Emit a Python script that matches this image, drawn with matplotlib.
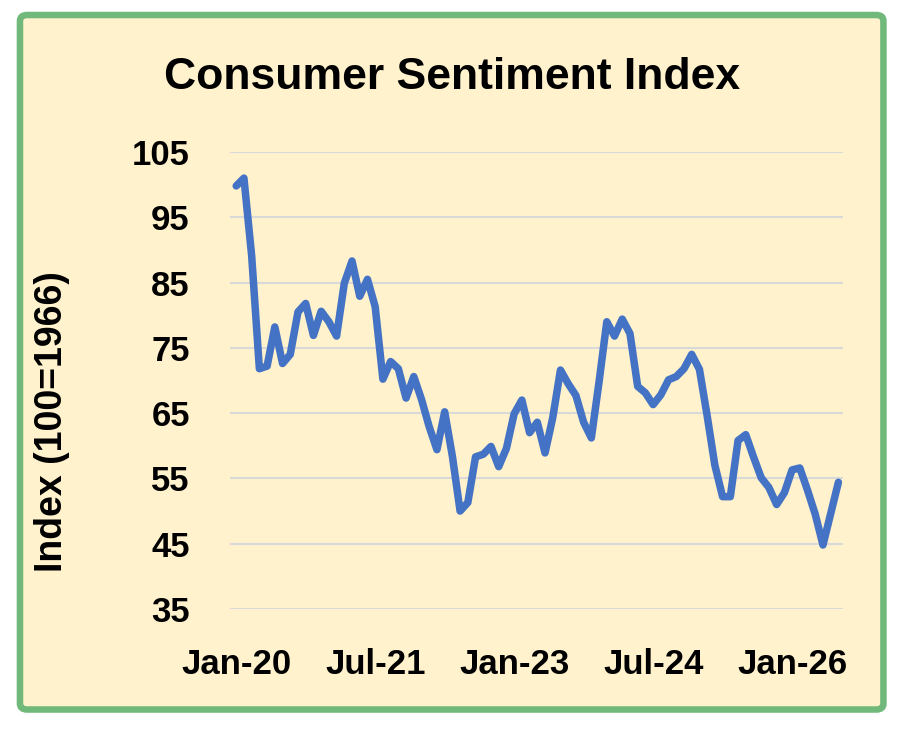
#!/usr/bin/env python3
"""Consumer sentiment index line chart, Jan 2020 onwards."""

import matplotlib as mpl
mpl.use('Agg')
import matplotlib.pyplot as plt
from matplotlib.patches import FancyBboxPatch

# monthly index values, Jan-20 .. Jul-26
months = ['Jan-20', 'Feb-20', 'Mar-20', 'Apr-20', 'May-20', 'Jun-20',
          'Jul-20', 'Aug-20', 'Sep-20', 'Oct-20', 'Nov-20', 'Dec-20',
          'Jan-21', 'Feb-21', 'Mar-21', 'Apr-21', 'May-21', 'Jun-21',
          'Jul-21', 'Aug-21', 'Sep-21', 'Oct-21', 'Nov-21', 'Dec-21',
          'Jan-22', 'Feb-22', 'Mar-22', 'Apr-22', 'May-22', 'Jun-22',
          'Jul-22', 'Aug-22', 'Sep-22', 'Oct-22', 'Nov-22', 'Dec-22',
          'Jan-23', 'Feb-23', 'Mar-23', 'Apr-23', 'May-23', 'Jun-23',
          'Jul-23', 'Aug-23', 'Sep-23', 'Oct-23', 'Nov-23', 'Dec-23',
          'Jan-24', 'Feb-24', 'Mar-24', 'Apr-24', 'May-24', 'Jun-24',
          'Jul-24', 'Aug-24', 'Sep-24', 'Oct-24', 'Nov-24', 'Dec-24',
          'Jan-25', 'Feb-25', 'Mar-25', 'Apr-25', 'May-25', 'Jun-25',
          'Jul-25', 'Aug-25', 'Sep-25', 'Oct-25', 'Nov-25', 'Dec-25',
          'Jan-26', 'Feb-26', 'Mar-26', 'Apr-26', 'May-26', 'Jun-26',
          'Jul-26']
sentiment = [99.8, 101.0, 89.1, 71.8, 72.2, 78.2,
             72.6, 74.0, 80.5, 81.8, 76.9, 80.6,
             79.0, 76.8, 84.9, 88.3, 82.9, 85.5,
             81.3, 70.2, 72.9, 71.8, 67.3, 70.6,
             67.1, 62.9, 59.4, 65.2, 58.4, 50.0,
             51.3, 58.3, 58.7, 59.9, 56.8, 59.6,
             64.9, 67.0, 62.0, 63.6, 58.9, 64.3,
             71.6, 69.5, 67.7, 63.6, 61.2, 69.8,
             79.0, 76.8, 79.4, 77.2, 69.1, 68.1,
             66.3, 67.8, 70.1, 70.6, 71.8, 74.0,
             71.7, 64.6, 57.0, 52.2, 52.2, 60.8,
             61.7, 58.3, 55.1, 53.6, 51.0, 52.8,
             56.3, 56.6, 53.2, 49.5, 44.8, 49.6,
             54.4]
x_labels = ['Jan-20', 'Jul-21', 'Jan-23', 'Jul-24', 'Jan-26']
y_ticks = [35, 45, 55, 65, 75, 85, 95, 105]

title = 'Consumer Sentiment Index'
y_title = 'Index (100=1966)'


def main():
    ###########################################################################
    # CONFIGURATION
    mpl.rc('font', family=['Liberation Sans', 'DejaVu Sans'], weight='bold')
    cream = '#FFF2CC'
    green = '#71B97A'
    blue = '#4472C4'

    fig = plt.figure(figsize=(9.0, 7.36), dpi=100, facecolor='white')

    # rounded green frame with cream fill, kept behind the axes
    frame = FancyBboxPatch((0.0222, 0.036), 0.9594, 0.9436,
                           boxstyle='round,pad=0,rounding_size=0.008',
                           transform=fig.transFigure, facecolor=cream,
                           edgecolor=green, linewidth=4.7, zorder=-5)
    fig.patches.append(frame)

    ax = fig.add_axes([0.2556, 0.1726, 0.6811, 0.6209])
    ax.set_zorder(2)
    ax.set_facecolor('none')

    # -------------------------------------------------------------------------
    xs = list(range(len(sentiment)))
    ax.plot(xs, sentiment, color=blue, linewidth=5.4,
            solid_joinstyle='round', solid_capstyle='round', zorder=3)

    ax.set_ylim(35, 105)
    ax.set_yticks(y_ticks)
    ax.set_xlim(-0.8, 78.6)
    ax.set_xticks([months.index(m) for m in x_labels])
    ax.set_xticklabels(x_labels, family=['Liberation Sans Narrow',
                                         'Liberation Sans'],
                       fontsize=25, fontweight='bold')
    ax.tick_params(axis='y', length=0, pad=29, labelsize=25)
    ax.tick_params(axis='x', length=0, pad=28)
    ax.yaxis.grid(True, color='#D9D9D9', linewidth=1.5)
    ax.set_axisbelow(True)
    for s in ax.spines.values():
        s.set_visible(False)

    fig.text(0.502, 0.895, title, ha='center', va='center',
             fontsize=32, fontweight='bold')
    fig.text(0.058, 0.4266, y_title, ha='center', va='center',
             rotation=90, fontsize=27, fontweight='bold')

    fig.savefig('out.png', dpi=100, facecolor='white')


if __name__ == '__main__':
    main()
